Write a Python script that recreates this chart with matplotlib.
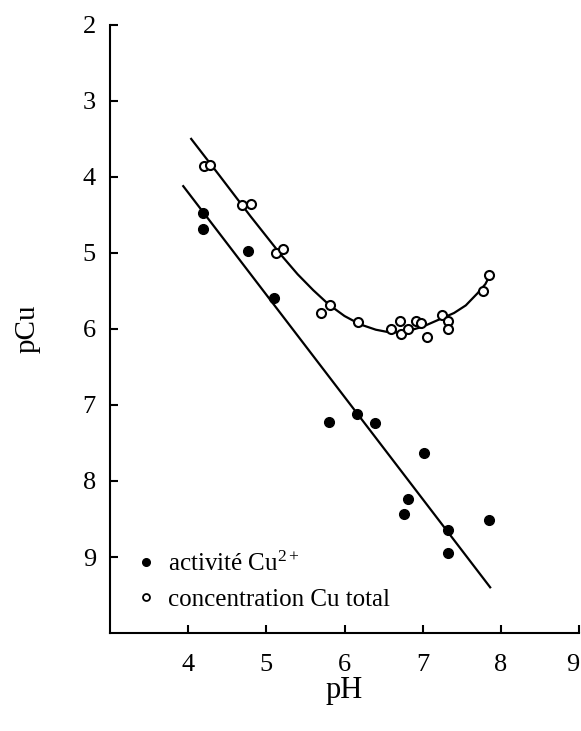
"""pCu en fonction du pH : activité Cu2+ et concentration Cu total."""
import matplotlib
matplotlib.use('Agg')
import matplotlib.pyplot as plt
from matplotlib.lines import Line2D

plt.rcParams['font.family'] = ['Liberation Serif', 'DejaVu Serif']
plt.rcParams['mathtext.fontset'] = 'custom'
plt.rcParams['mathtext.rm'] = 'Liberation Serif'
plt.rcParams['mathtext.it'] = 'Liberation Serif:italic'

# activité Cu2+ (points pleins)
ph_act = [4.19, 4.19, 4.77, 5.10, 5.80, 6.16, 6.39, 7.01, 6.81, 6.76, 7.32, 7.85, 7.32]
pcu_act = [4.47, 4.68, 4.97, 5.59, 7.22, 7.12, 7.24, 7.63, 8.24, 8.44, 8.64, 8.51, 8.95]

# concentration Cu total (points vides)
ph_tot = [4.21, 4.28, 4.69, 4.80, 5.12, 5.21, 5.70, 5.81, 6.17, 6.60, 6.71,
          6.72, 6.81, 6.91, 6.98, 7.06, 7.24, 7.32, 7.32, 7.77, 7.85]
pcu_tot = [3.86, 3.84, 4.37, 4.36, 5.00, 4.95, 5.79, 5.69, 5.91, 6.00, 5.90,
           6.07, 6.00, 5.89, 5.92, 6.10, 5.81, 5.90, 6.00, 5.50, 5.29]

# droite / courbe ajustées
fit_act_ph = [3.93, 7.87]
fit_act_pcu = [4.11, 9.41]
fit_tot_ph = [4.04, 4.4, 4.8, 5.2, 5.4, 5.6, 5.8, 6.0, 6.2, 6.4, 6.6, 6.8,
              7.0, 7.2, 7.4, 7.55, 7.7, 7.8, 7.87]
fit_tot_pcu = [3.50, 3.98, 4.52, 5.04, 5.28, 5.49, 5.68, 5.83, 5.94, 6.01, 6.05, 6.03,
               5.97, 5.88, 5.79, 5.69, 5.53, 5.41, 5.27]

xticks = [4, 5, 6, 7, 8, 9]
yticks = [2, 3, 4, 5, 6, 7, 8, 9]

fig = plt.figure(figsize=(5.81, 7.31), dpi=100)
ax = fig.add_axes([0.189, 0.134, 0.808, 0.832])

ax.plot(fit_act_ph, fit_act_pcu, color='black', lw=1.6, solid_capstyle='butt')
ax.plot(fit_tot_ph, fit_tot_pcu, color='black', lw=1.6, solid_joinstyle='round')
ax.plot(ph_act, pcu_act, 'o', color='black', ms=7, ls='none')
ax.plot(ph_tot, pcu_tot, 'o', mfc='white', mec='black', mew=1.5, ms=6.5, ls='none')

ax.set_xlim(3, 9)
ax.set_ylim(10, 2)
ax.set_xticks(xticks)
ax.set_yticks(yticks)
ax.spines['top'].set_visible(False)
ax.spines['right'].set_visible(False)
for s in ('left', 'bottom'):
    ax.spines[s].set_linewidth(1.5)
ax.tick_params(axis='both', direction='in', length=6, width=1.5, labelsize=19)
ax.tick_params(axis='x', pad=15)
ax.tick_params(axis='y', pad=10)
ax.get_xticklabels()[-1].set_horizontalalignment('right')
ax.set_xlabel('pH', fontsize=22, labelpad=0)
ax.set_ylabel('pCu', fontsize=21, labelpad=30)

handles = [
    Line2D([], [], marker='o', ls='none', color='black', ms=5.5),
    Line2D([], [], marker='o', ls='none', mfc='white', mec='black', mew=1.3, ms=5),
]
ax.legend(handles, [r'activité Cu$^{\mathrm{2+}}$', 'concentration Cu total'],
          loc='lower left', bbox_to_anchor=(0.007, 0.0), frameon=False,
          fontsize=18, handlelength=0.8, handletextpad=0.5, labelspacing=0.5)

fig.savefig('out.png', dpi=100)
plt.close(fig)
